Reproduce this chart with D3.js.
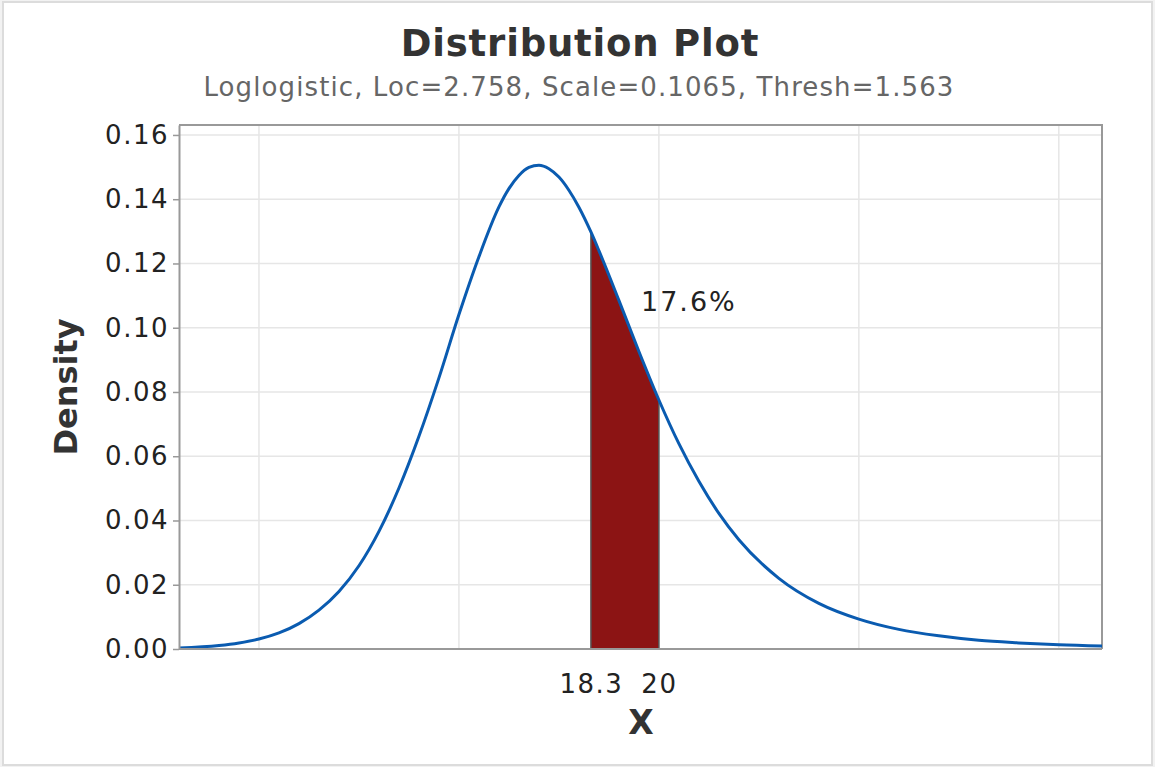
<!DOCTYPE html>
<html>
<head>
<meta charset="utf-8">
<script src="https://cdn.jsdelivr.net/npm/d3@7"></script>
<style>
  body { margin: 0; background: #f2f2f2; }
  text { font-family: "DejaVu Sans", Verdana, sans-serif; }
</style>
</head>
<body>
<div class="container"></div>
<script>

// density curve
const xValues = [8, 9, 9.5, 10, 10.5, 11, 11.5, 12, 12.5, 13, 13.5, 14, 14.5, 15, 15.5, 16, 16.25, 16.5, 16.75, 17,
                 17.25, 17.5, 17.75, 18, 18.3, 18.5, 19, 19.5, 20, 20.5, 21, 21.5, 22, 23, 24, 25, 26, 27, 28, 29, 30, 31.08];
const density = [0.0003, 0.0011, 0.0019, 0.0031, 0.0050, 0.0079, 0.0121, 0.0179, 0.0259, 0.0366, 0.0501, 0.0662, 0.0844, 0.1041, 0.1221, 0.1376, 0.1433, 0.1474, 0.1499, 0.1506,
                 0.1495, 0.1469, 0.1428, 0.1375, 0.1298, 0.1240, 0.1085, 0.0926, 0.0775, 0.0639, 0.0522, 0.0422, 0.0340, 0.0220, 0.0142, 0.0093, 0.0061, 0.0041, 0.0027, 0.0019, 0.0013, 0.0009];

const yTicks = [0, 0.02, 0.04, 0.06, 0.08, 0.10, 0.12, 0.14, 0.16];
const xGrid = [10, 15, 20, 25, 30];
const xTicks = [18.3, 20];
const shadeFrom = 18.3;
const shadeTo = 20;
const shadeLabel = '17.6%';

const renderPlot = () => {

  const width = 1155;
  const height = 767;
  const left = 179, right = 1102, top = 125, bottom = 649;

  const points = xValues.map((x, i) => ({x: x, y: density[i]}));

  const xScale = d3.scaleLinear()
                   .domain([8, 31.08])
                   .range([left, right]);

  const yScale = d3.scaleLinear()
                   .domain([0, 0.1631])
                   .range([bottom, top]);

  const svg = d3.select('.container')
    .append('svg')
    .attr('width', width)
    .attr('height', height);

  svg.append('rect')
    .attr('x', 3).attr('y', 2)
    .attr('width', width - 6).attr('height', height - 4)
    .attr('fill', 'white')
    .attr('stroke', '#dcdcdc')
    .attr('stroke-width', 2);

  // grid
  svg.append('g').selectAll('line')
    .data(xGrid)
    .enter()
    .append('line')
    .attr('x1', d => xScale(d)).attr('x2', d => xScale(d))
    .attr('y1', top).attr('y2', bottom)
    .attr('stroke', '#e6e6e6')
    .attr('stroke-width', 1.5);

  svg.append('g').selectAll('line')
    .data(yTicks.slice(1))
    .enter()
    .append('line')
    .attr('x1', left).attr('x2', right)
    .attr('y1', d => yScale(d)).attr('y2', d => yScale(d))
    .attr('stroke', '#e6e6e6')
    .attr('stroke-width', 1.5);

  // frame top / right
  svg.append('path')
    .attr('d', `M${left},${top}H${right}V${bottom}`)
    .attr('fill', 'none')
    .attr('stroke', '#999')
    .attr('stroke-width', 2);

  // shaded region
  const shadePts = points.filter(d => d.x >= shadeFrom && d.x <= shadeTo);
  const area = d3.area()
    .x(d => xScale(d.x))
    .y0(yScale(0))
    .y1(d => yScale(d.y))
    .curve(d3.curveMonotoneX);

  svg.append('path')
    .datum(shadePts)
    .attr('d', area)
    .attr('fill', '#8c1414');

  [shadePts[0], shadePts[shadePts.length - 1]].forEach(p => {
    svg.append('line')
      .attr('x1', xScale(p.x)).attr('x2', xScale(p.x))
      .attr('y1', yScale(0)).attr('y2', yScale(p.y))
      .attr('stroke', '#555')
      .attr('stroke-width', 1.5);
  });

  // density line
  const line = d3.line()
    .x(d => xScale(d.x))
    .y(d => yScale(d.y))
    .curve(d3.curveMonotoneX);

  svg.append('path')
    .datum(points)
    .attr('d', line)
    .attr('fill', 'none')
    .attr('stroke', '#0a5bb0')
    .attr('stroke-width', 3);

  // axes
  const yAxis = svg.append('g')
    .attr('transform', `translate(${left},0)`)
    .call(d3.axisLeft(yScale).tickValues(yTicks).tickFormat(d3.format('.2f')).tickSize(6).tickSizeOuter(0).tickPadding(4));

  const xAxis = svg.append('g')
    .attr('transform', `translate(0,${bottom})`)
    .call(d3.axisBottom(xScale).tickValues(xTicks).tickFormat(d => d).tickSize(0).tickSizeOuter(0).tickPadding(26));

  [yAxis, xAxis].forEach(ax => {
    ax.select('.domain').attr('stroke', '#999').attr('stroke-width', 2);
    ax.selectAll('.tick line').attr('stroke', '#999').attr('stroke-width', 1.5);
    ax.selectAll('.tick text')
      .attr('fill', '#222')
      .style('font-size', '26px')
      .style('letter-spacing', '1.5px')
      .style('font-family', '"DejaVu Sans", Verdana, sans-serif');
  });
  xAxis.select('.domain').attr('d', `M${left},0H${right}`);

  // labels
  svg.append('text')
    .attr('x', 641)
    .attr('y', 311)
    .attr('fill', '#222')
    .style('font-size', '27px')
    .style('letter-spacing', '2px')
    .text(shadeLabel);

  svg.append('text')
    .attr('x', 580).attr('y', 56)
    .attr('text-anchor', 'middle')
    .attr('fill', '#333')
    .style('font-size', '37px')
    .style('letter-spacing', '0.8px')
    .style('font-weight', 'bold')
    .text('Distribution Plot');

  svg.append('text')
    .attr('x', 579).attr('y', 96)
    .attr('text-anchor', 'middle')
    .attr('fill', '#666')
    .style('font-size', '26px')
    .style('letter-spacing', '1.1px')
    .text('Loglogistic, Loc=2.758, Scale=0.1065, Thresh=1.563');

  svg.append('text')
    .attr('x', 641).attr('y', 734)
    .attr('text-anchor', 'middle')
    .attr('fill', '#333')
    .style('font-size', '33px')
    .style('font-weight', 'bold')
    .text('X');

  svg.append('text')
    .attr('transform', 'translate(77,387) rotate(-90)')
    .attr('text-anchor', 'middle')
    .attr('fill', '#333')
    .style('font-size', '32px')
    .style('font-weight', 'bold')
    .text('Density');

};

renderPlot();
</script>
</body>
</html>
